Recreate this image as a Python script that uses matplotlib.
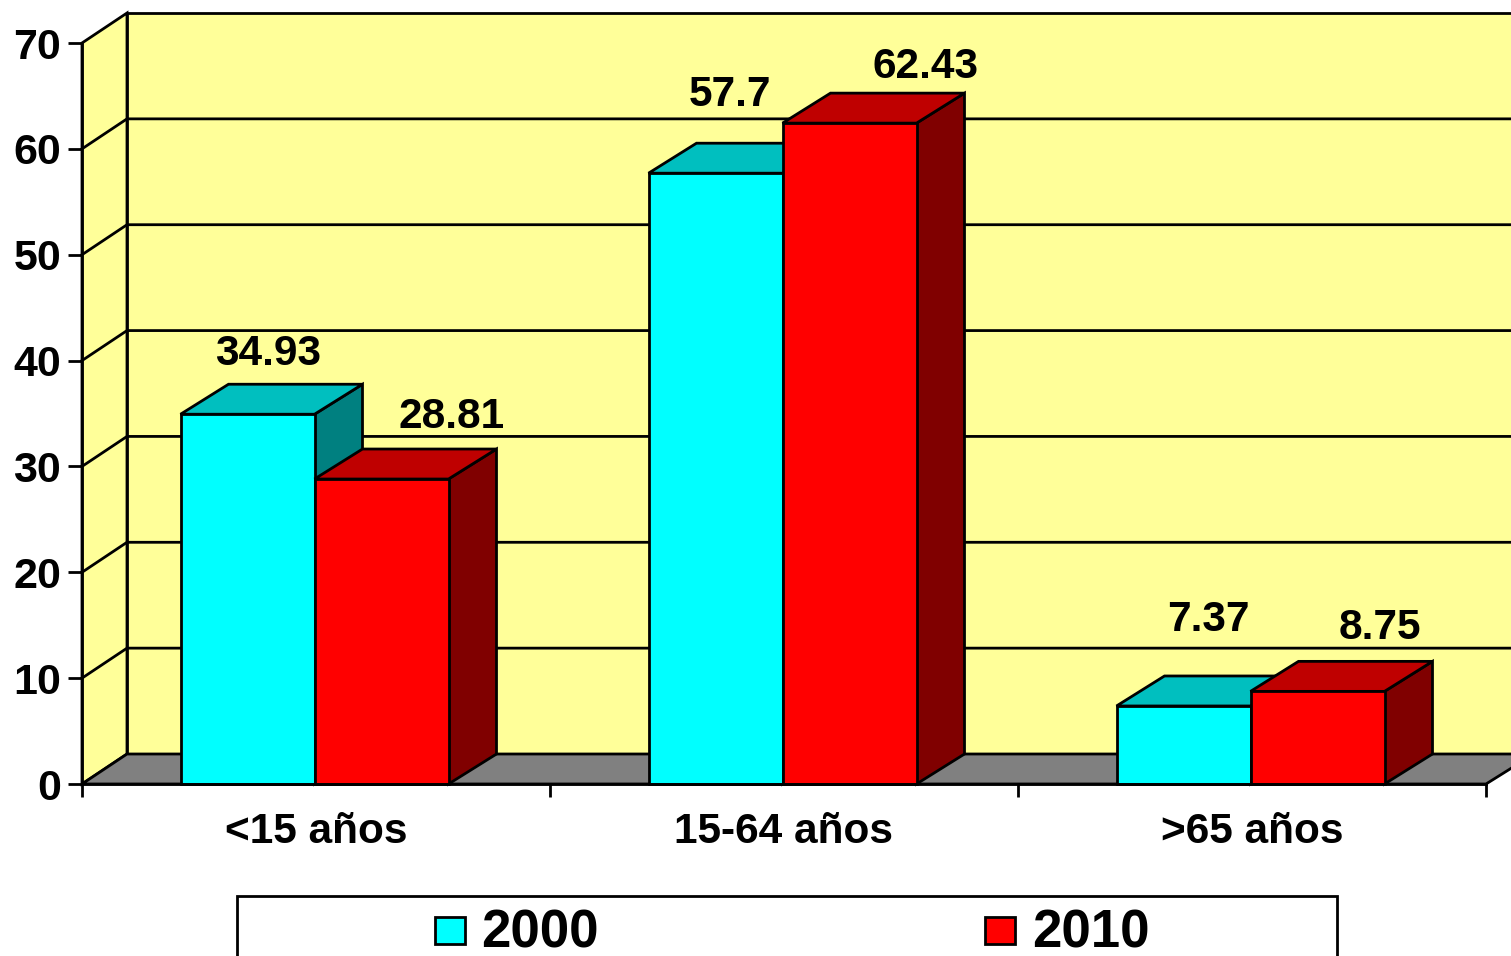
import matplotlib
matplotlib.use('Agg')
import matplotlib.pyplot as plt
from matplotlib.patches import Polygon, Rectangle

plt.rcParams['font.family'] = ['Liberation Sans', 'DejaVu Sans']
plt.rcParams['font.weight'] = 'bold'

# data
categories = ['<15 años', '15-64 años', '>65 años']
series_names = ['2000', '2010']
values_2000 = [34.93, 57.7, 7.37]
values_2010 = [28.81, 62.43, 8.75]
y_ticks = [0, 10, 20, 30, 40, 50, 60, 70]

# label offsets from bar top centre, in pixels
offsets_2000 = [(21, 60), (14, 78), (25, 86)]
offsets_2010 = [(70, 62), (76, 56), (62, 63)]

W, H = 1511, 956
LW = 2.0
fig = plt.figure(figsize=(W / 100, H / 100), dpi=100, facecolor='white')
ax = fig.add_axes([82 / W, 1 - 784 / H, 1404 / W, 741 / H])
ax.set_xlim(0, 3)
ax.set_ylim(0, 70)
ax.patch.set_visible(False)

# 3d depth in data units
dx = 45 / 468
bar_dx = 48 / 468
dy = 30 / (741 / 70)
bar_w = 134 / 468
bar_shift = -1.5 / 468
x_end = 3 + bar_dx


def poly(pts, color, z):
    ax.add_patch(Polygon(pts, closed=True, facecolor=color, edgecolor='black',
                         linewidth=LW, clip_on=False, zorder=z, joinstyle='miter'))


# walls and floor
poly([(0, 0), (dx, dy), (dx, 70 + dy), (0, 70)], '#FFFF99', 1)
poly([(dx, dy), (x_end, dy), (x_end, 70 + dy), (dx, 70 + dy)], '#FFFF99', 1)
poly([(0, 0), (dx, dy), (x_end, dy), (3, 0)], '#808080', 1.2)

# grid lines on the walls
for v in y_ticks[1:-1]:
    ax.plot([0, dx, x_end], [v, v + dy, v + dy], color='black', lw=LW,
            clip_on=False, zorder=1.5)


def bar3d(x, v, front, top, side, z):
    poly([(x + bar_w, 0), (x + bar_w + bar_dx, dy), (x + bar_w + bar_dx, v + dy), (x + bar_w, v)], side, z)
    poly([(x, v), (x + bar_dx, v + dy), (x + bar_w + bar_dx, v + dy), (x + bar_w, v)], top, z)
    ax.bar(x, v, width=bar_w, align='edge', color=front, edgecolor='black',
           linewidth=LW, clip_on=False, zorder=z + 0.1)


for i in range(len(categories)):
    left = i + 0.5 - bar_w + bar_shift
    bar3d(left, values_2000[i], '#00FFFF', '#00BFBF', '#008080', 3 + i)
    bar3d(left + bar_w, values_2010[i], '#FF0000', '#BF0000', '#800000', 3.5 + i)
    ax.annotate(str(values_2000[i]), (left + bar_w / 2, values_2000[i]),
                xytext=(offsets_2000[i][0] * 0.72, offsets_2000[i][1] * 0.72),
                textcoords='offset points', ha='center', va='center',
                fontsize=30.5, fontweight='bold', color='black', zorder=10)
    ax.annotate(str(values_2010[i]), (left + 1.5 * bar_w, values_2010[i]),
                xytext=(offsets_2010[i][0] * 0.72, offsets_2010[i][1] * 0.72),
                textcoords='offset points', ha='center', va='center',
                fontsize=30.5, fontweight='bold', color='black', zorder=10)

# axes
for s in ['top', 'right']:
    ax.spines[s].set_visible(False)
for s in ['left', 'bottom']:
    ax.spines[s].set_linewidth(LW)
    ax.spines[s].set_zorder(20)
ax.set_yticks(y_ticks)
ax.set_xticks([0, 1, 2, 3])
ax.set_xticklabels([])
ax.set_xticks([0.5, 1.5, 2.5], categories, minor=True)
ax.tick_params(axis='y', length=10, width=LW, pad=5, labelsize=31)
ax.tick_params(axis='x', which='major', length=9, width=LW)
ax.tick_params(axis='x', which='minor', length=0, pad=20, labelsize=30.5)

# legend box, runs off the bottom of the picture
fig.add_artist(Rectangle((237 / W, -0.05), 1100 / W, 1 - 896 / H + 0.05,
                         transform=fig.transFigure, facecolor='white',
                         edgecolor='black', linewidth=LW))
for name, c, x0, xt in zip(series_names, ['#00FFFF', '#FF0000'], [435, 985], [481, 1032]):
    fig.add_artist(Rectangle((x0 / W, 1 - 944 / H), 30 / W, 27 / H,
                             transform=fig.transFigure, facecolor=c,
                             edgecolor='black', linewidth=LW))
    fig.text(xt / W, 1 - 933 / H, name, ha='left', va='center', fontsize=38,
             fontweight='bold', color='black')

fig.savefig('out.png', dpi=100)
